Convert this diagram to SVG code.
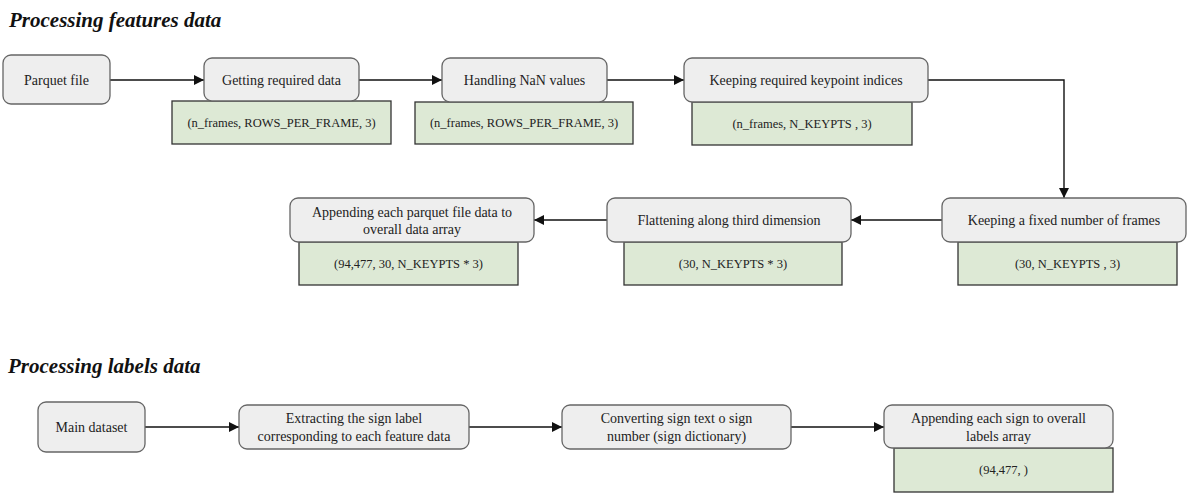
<svg xmlns="http://www.w3.org/2000/svg" width="1194" height="499" viewBox="0 0 1194 499">
<style>
.title{font-family:"Liberation Serif","Times New Roman",serif;font-weight:bold;font-style:italic;font-size:21px;fill:#111}
.proc{fill:#eeeeee;stroke:#666;stroke-width:1.3}
.shape{fill:#dde9d5;stroke:#333;stroke-width:1.3}
.t{font-family:"Liberation Serif","Times New Roman",serif;font-size:14px;fill:#222;text-anchor:middle;dominant-baseline:central}
.s{font-size:12.5px}
.c{fill:none;stroke:#111;stroke-width:1.4}
</style>
<defs>
<marker id="ah" viewBox="0 0 10 10" refX="10" refY="5" markerWidth="10" markerHeight="10" markerUnits="userSpaceOnUse" orient="auto">
<path d="M0,0 L10,5 L0,10 z" fill="#111"/>
</marker>
</defs>
<rect width="1194" height="499" fill="#fff"/>
<text class="title" x="9" y="27">Processing features data</text>
<text class="title" x="8" y="373">Processing labels data</text>

<g id="connectors">
<path class="c" d="M110,80 L204,80" marker-end="url(#ah)"/>
<path class="c" d="M359,80 L442,80" marker-end="url(#ah)"/>
<path class="c" d="M607,80 L684,80" marker-end="url(#ah)"/>
<path class="c" d="M928,80 L1064,80 L1064,198" marker-end="url(#ah)"/>
<path class="c" d="M942,220 L851,220" marker-end="url(#ah)"/>
<path class="c" d="M607,220 L534,220" marker-end="url(#ah)"/>
<path class="c" d="M145,427 L239,427" marker-end="url(#ah)"/>
<path class="c" d="M469,427 L562,427" marker-end="url(#ah)"/>
<path class="c" d="M791,427 L884,427" marker-end="url(#ah)"/>
</g>

<g id="parquet">
<rect class="proc" x="3" y="55" width="107" height="49" rx="8"/>
<text class="t" x="56.5" y="80">Parquet file</text>
</g>
<g id="getting">
<rect class="shape" x="172" y="101" width="219" height="43"/>
<rect class="proc" x="204" y="58" width="155" height="43" rx="8"/>
<text class="t" x="281.5" y="80">Getting required data</text>
<text class="t s" x="281.5" y="123">(n_frames, ROWS_PER_FRAME, 3)</text>
</g>
<g id="nan">
<rect class="shape" x="415" y="102" width="218" height="42"/>
<rect class="proc" x="442" y="58" width="165" height="44" rx="8"/>
<text class="t" x="524.5" y="80">Handling NaN values</text>
<text class="t s" x="524" y="123">(n_frames, ROWS_PER_FRAME, 3)</text>
</g>
<g id="keypoints">
<rect class="shape" x="692" y="102" width="220" height="43"/>
<rect class="proc" x="684" y="58" width="244" height="44" rx="8"/>
<text class="t" x="806" y="80">Keeping required keypoint indices</text>
<text class="t s" x="802" y="124">(n_frames, N_KEYPTS , 3)</text>
</g>
<g id="fixed">
<rect class="shape" x="958" y="242" width="219" height="43"/>
<rect class="proc" x="942" y="198" width="244" height="44" rx="8"/>
<text class="t" x="1064" y="220">Keeping a fixed number of frames</text>
<text class="t s" x="1067.5" y="264">(30, N_KEYPTS , 3)</text>
</g>
<g id="flatten">
<rect class="shape" x="624" y="242" width="218" height="43"/>
<rect class="proc" x="607" y="198" width="244" height="44" rx="8"/>
<text class="t" x="729" y="220">Flattening along third dimension</text>
<text class="t s" x="733" y="264">(30, N_KEYPTS * 3)</text>
</g>
<g id="append">
<rect class="shape" x="299" y="242" width="219" height="43"/>
<rect class="proc" x="290" y="198" width="244" height="44" rx="8"/>
<text class="t" x="412" y="212">Appending each parquet file data to</text>
<text class="t" x="412" y="229">overall data array</text>
<text class="t s" x="408.5" y="264">(94,477, 30, N_KEYPTS * 3)</text>
</g>

<g id="maindataset">
<rect class="proc" x="38" y="402" width="107" height="50" rx="8"/>
<text class="t" x="91.5" y="427">Main dataset</text>
</g>
<g id="extract">
<rect class="proc" x="239" y="405" width="230" height="44" rx="8"/>
<text class="t" x="354" y="418">Extracting the sign label</text>
<text class="t" x="354" y="436">corresponding to each feature data</text>
</g>
<g id="convert">
<rect class="proc" x="562" y="405" width="229" height="44" rx="8"/>
<text class="t" x="676.5" y="418">Converting sign text o sign</text>
<text class="t" x="676.5" y="436">number (sign dictionary)</text>
</g>
<g id="appendsign">
<rect class="shape" x="894" y="448" width="219" height="44"/>
<rect class="proc" x="884" y="405" width="229" height="43" rx="8"/>
<text class="t" x="998.5" y="418">Appending each sign to overall</text>
<text class="t" x="998.5" y="436">labels array</text>
<text class="t s" x="1003.5" y="470">(94,477, )</text>
</g>
</svg>
